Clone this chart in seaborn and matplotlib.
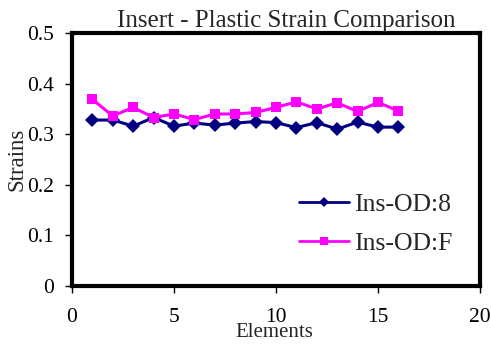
import matplotlib
matplotlib.use("Agg")
import matplotlib.pyplot as plt
import seaborn as sns
import pandas as pd

elements = list(range(1, 17))
ins_od_8 = [0.328, 0.328, 0.316, 0.333, 0.316, 0.322, 0.318, 0.322,
            0.325, 0.323, 0.313, 0.323, 0.310, 0.324, 0.314, 0.314]
ins_od_f = [0.369, 0.336, 0.353, 0.333, 0.340, 0.329, 0.340, 0.340,
            0.343, 0.353, 0.364, 0.350, 0.362, 0.345, 0.363, 0.346]
series_names = ["Ins-OD:8", "Ins-OD:F"]

df = pd.DataFrame({
    "Elements": elements * 2,
    "Strains": ins_od_8 + ins_od_f,
    "Series": [series_names[0]] * len(elements) + [series_names[1]] * len(elements),
})

sns.set_style("white")
plt.rcParams["font.family"] = ["Liberation Serif", "DejaVu Serif"]

fig = plt.figure(figsize=(4.91, 3.44), dpi=100)
ax = fig.add_axes([0.1466, 0.1686, 0.831, 0.7354])

sns.lineplot(data=df, x="Elements", y="Strains", hue="Series", style="Series",
             palette={series_names[0]: "#000080", series_names[1]: "#FF00FF"},
             markers={series_names[0]: "D", series_names[1]: "s"},
             dashes=False, linewidth=2.2, markersize=7.5, markeredgewidth=0,
             ax=ax)

ax.set_xlim(0, 20)
ax.set_ylim(0, 0.5)
ax.set_xticks([0, 5, 10, 15, 20])
ax.set_yticks([0, 0.1, 0.2, 0.3, 0.4, 0.5])
ax.set_yticklabels(["0", "0.1", "0.2", "0.3", "0.4", "0.5"])
ax.tick_params(axis="both", direction="out", length=5, width=1, labelsize=15.5,
               bottom=True, left=True, colors="black")
ax.tick_params(axis="x", pad=11)
ax.tick_params(axis="y", pad=8)
for s in ax.spines.values():
    s.set_linewidth(3)
    s.set_color("black")

ax.set_title("Insert - Plastic Strain Comparison", fontsize=18, pad=4.5, x=0.524)
ax.set_xlabel("Elements", fontsize=15)
ax.xaxis.set_label_coords(0.495, -0.146)
ax.set_ylabel("Strains", fontsize=16.5)
ax.yaxis.set_label_coords(-0.108, 0.5)

handles, labels = ax.get_legend_handles_labels()
for h in handles:
    h.set_linewidth(2)
    h.set_markersize(5.5)
ax.legend(handles, labels, loc="lower right", bbox_to_anchor=(0.958, 0.08),
          borderaxespad=0, frameon=False, fontsize=18.5, handlelength=1.95,
          labelspacing=0.65, handletextpad=0.2)

fig.savefig("out.png", dpi=100)
